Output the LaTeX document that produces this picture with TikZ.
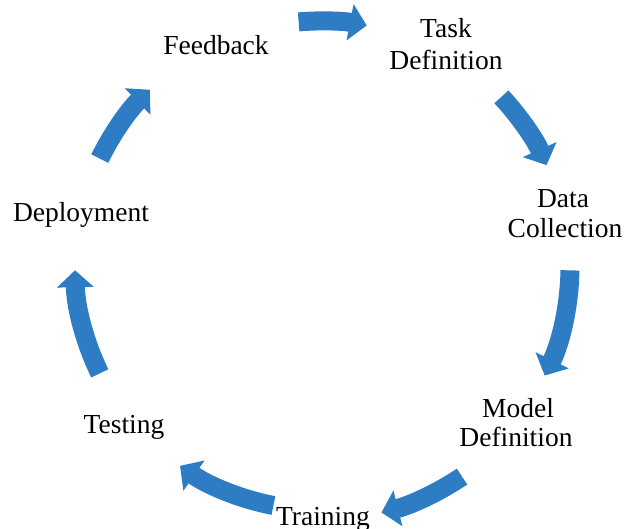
\documentclass[tikz,border=0pt]{standalone}
\usepackage{fontspec}
\setmainfont{Liberation Serif}
\usetikzlibrary{arrows.meta}
\definecolor{arrowblue}{RGB}{46,125,196}
\begin{document}
\begin{tikzpicture}[x=1pt,y=1pt,
  lbl/.style={inner sep=0pt, align=center, font=\fontsize{27.5}{31}\selectfont},
  cyc/.style={draw=arrowblue, line width=19pt, -{Triangle[width=36pt,length=17pt]}, arrowblue}]
\useasboundingbox (0,0) rectangle (627,529);
\coordinate (c) at (320,263);
\node[lbl, anchor=base] (fb) at (216,474) {Feedback};
\node[lbl, anchor=base] (td) at (446,491) {Task};
\node[lbl, anchor=base] (td2) at (446,459) {Definition};
\node[lbl, anchor=base] (dc) at (563,321) {Data};
\node[lbl, anchor=base] (dc2) at (565,291) {Collection};
\node[lbl, anchor=base] (md) at (518,111) {Model};
\node[lbl, anchor=base] (md2) at (516,82) {Definition};
\node[lbl, anchor=base] (tr) at (323,3) {Training};
\node[lbl, anchor=base] (ts) at (124,95) {Testing};
\node[lbl, anchor=base] (dp) at (81,307) {Deployment};
\draw[cyc] (c) ++(95:245) arc[start angle=95, end angle=79, radius=245];
\draw[cyc] (c) ++(43:248) arc[start angle=43, end angle=24, radius=248];
\draw[cyc] (c) ++(-1:250) arc[start angle=-1, end angle=-26, radius=250];
\draw[cyc] (c) ++(-56:254) arc[start angle=-56, end angle=-76, radius=254];
\draw[cyc] (c) ++(-101:244) arc[start angle=-101, end angle=-125, radius=244];
\draw[cyc] (c) ++(-154:245) arc[start angle=-154, end angle=-179, radius=245];
\draw[cyc] (c) ++(154:245) arc[start angle=154, end angle=134, radius=245];
\end{tikzpicture}
\end{document}
